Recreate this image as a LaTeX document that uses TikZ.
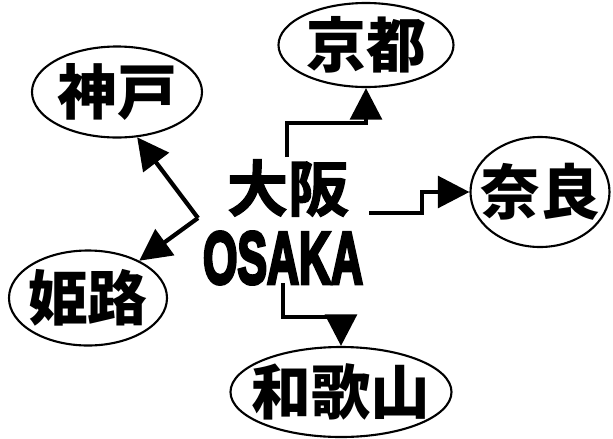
\documentclass[tikz,border=0pt]{standalone}
\usepackage{fontspec}
\usepackage{graphicx}
\setmainfont{Liberation Sans}
\newfontfamily\cjk{Noto Sans CJK JP}
\newfontfamily\cjkheavy[FakeBold=2]{Noto Sans CJK JP Bold}
\newfontfamily\heavy[FakeBold=5]{Liberation Sans Bold}
\usetikzlibrary{shapes.geometric,arrows.meta}

\tikzset{
  city/.style={ellipse,draw,line width=1.8pt,inner sep=-18pt,font=\cjk\bfseries\fontsize{51pt}{51pt}\selectfont},
  arr/.style={line width=3.6pt,-{Triangle[length=27pt,width=27pt]}}
}

\begin{document}
\begin{tikzpicture}[x=0.03cm,y=-0.03cm]
  \useasboundingbox (0,0) rectangle (613,438);

  \node[city,minimum width=5.25cm,minimum height=2.52cm] (kyoto) at (366,45) {京都};
  \node[city,minimum width=5.1cm,minimum height=2.73cm] (kobe) at (117,92) {神戸};
  \node[city,minimum width=4.17cm,minimum height=3.3cm] (nara) at (540,192) {奈良};
  \node[city,minimum width=4.74cm,minimum height=2.85cm] (himeji) at (88,298) {姫路};
  \node[city,minimum width=6.63cm,minimum height=2.7cm] (wakayama) at (341,392) {和歌山};

  \node[font=\cjkheavy\fontsize{52pt}{52pt}\selectfont] (osaka) at (288,188) {大阪};
  \node[font=\heavy\fontsize{63pt}{63pt}\selectfont] (en) at (283,258) {\scalebox{0.6}[1]{OSAKA}};

  \coordinate (k0) at (287,157);
  \coordinate (k1) at (287,123);
  \coordinate (b0) at (198,218);
  \coordinate (n0) at (369,213);
  \coordinate (n1) at (422,213);
  \coordinate (w0) at (283,283);
  \coordinate (w1) at (283,317);

  \draw[arr] (k0) -- (k1) -| (kyoto);
  \draw[arr] (b0) to (kobe.-66);
  \draw[arr] (b0) to (himeji);
  \draw[arr] (n0) -- (n1) |- (nara);
  \draw[arr] (w0) -- (w1) -| (wakayama);

\end{tikzpicture}
\end{document}
